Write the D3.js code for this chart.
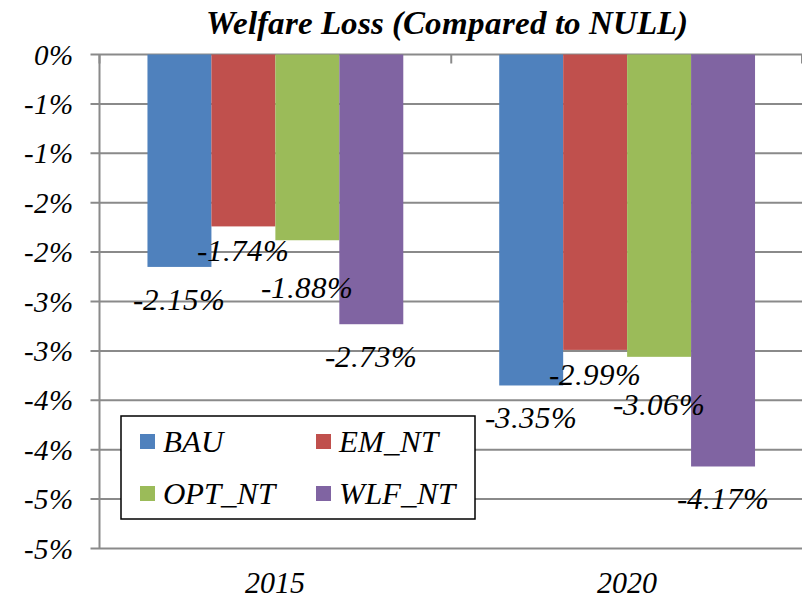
<!DOCTYPE html>
<html>
<head>
<meta charset="utf-8">
<script src="https://cdn.jsdelivr.net/npm/d3@7"></script>
<style>
  @font-face {
    font-family: "RefSerif";
    font-style: italic;
    font-weight: 400;
    src: local("Liberation Serif Italic"), local("LiberationSerif-Italic");
  }
  @font-face {
    font-family: "RefSerif";
    font-style: italic;
    font-weight: 700;
    src: local("Liberation Serif Bold Italic"), local("LiberationSerif-BoldItalic");
  }
  body { margin: 0; }
</style>
</head>
<body>
<svg id="chart" width="802" height="600"></svg>
<script>
const years = ["2015", "2020"];
const seriesNames = ["BAU", "EM_NT", "OPT_NT", "WLF_NT"];
const BAU = [-2.15, -3.35];
const EM_NT = [-1.74, -2.99];
const OPT_NT = [-1.88, -3.06];
const WLF_NT = [-2.73, -4.17];
const yTicks = [0, -0.5, -1, -1.5, -2, -2.5, -3, -3.5, -4, -4.5, -5];

const seriesValues = { BAU, EM_NT, OPT_NT, WLF_NT };
const colors = { BAU: "#4F81BD", EM_NT: "#C0504D", OPT_NT: "#9BBB59", WLF_NT: "#8064A2" };
// labels were nudged by hand in the original so they don't collide
const labelNudge = { BAU: 0, EM_NT: -8, OPT_NT: 15, WLF_NT: 0 };

const plotLeft = 99.5, plotRight = 803, plotTop = 54.5, plotBottom = 548.5;
const gridColor = "#8a8a8a";
const fontStack = '"RefSerif", "Liberation Serif", "Times New Roman", serif';

const svg = d3.select("#chart");

const y = d3.scaleLinear().domain([-5, 0]).range([plotBottom, plotTop]);
const x = d3.scaleBand().domain(years).range([plotLeft, plotRight]);
const xs = d3.scaleBand().domain(seriesNames).range([0, x.bandwidth()]).paddingOuter(0.75);

const fmtTick = v => v === 0 ? "0%" : "-" + Math.round(-v) + "%";

function addText(parent, size) {
  return parent.append("text")
    .style("font-family", fontStack)
    .style("font-style", "italic")
    .style("font-size", size + "px")
    .attr("fill", "#000");
}

// gridlines
svg.append("g")
  .selectAll("line")
  .data(yTicks)
  .enter().append("line")
  .attr("x1", plotLeft - 9)
  .attr("x2", plotRight)
  .attr("y1", d => y(d))
  .attr("y2", d => y(d))
  .attr("stroke", gridColor)
  .attr("stroke-width", 2);

// value axis line
svg.append("line")
  .attr("x1", plotLeft).attr("x2", plotLeft)
  .attr("y1", plotTop).attr("y2", plotBottom)
  .attr("stroke", gridColor).attr("stroke-width", 2);

// y tick labels
yTicks.forEach(v => {
  addText(svg, 29)
    .attr("x", plotLeft - 27)
    .attr("y", y(v))
    .attr("dy", "0.35em")
    .attr("text-anchor", "end")
    .text(fmtTick(v));
});

// category axis sits at 0, ticks point down
svg.append("g")
  .selectAll("line")
  .data([plotLeft, x("2020"), plotRight - 1])
  .enter().append("line")
  .attr("x1", d => d)
  .attr("x2", d => d)
  .attr("y1", y(0))
  .attr("y2", y(0) + 9)
  .attr("stroke", gridColor)
  .attr("stroke-width", 2);

// title
addText(svg, 33)
  .attr("x", 447)
  .attr("y", 34)
  .attr("text-anchor", "middle")
  .style("font-weight", "bold")
  .text("Welfare Loss (Compared to NULL)");

// category labels at the bottom
years.forEach(yr => {
  addText(svg, 30)
    .attr("x", x(yr) + x.bandwidth() / 2)
    .attr("y", 593)
    .attr("text-anchor", "middle")
    .text(yr);
});

// bars
const rows = [];
years.forEach((yr, i) => {
  seriesNames.forEach(s => rows.push({ year: yr, series: s, value: seriesValues[s][i] }));
});

svg.append("g")
  .selectAll("rect")
  .data(rows)
  .enter().append("rect")
  .attr("x", d => x(d.year) + xs(d.series))
  .attr("width", xs.bandwidth())
  .attr("y", y(0))
  .attr("height", d => y(d.value) - y(0))
  .attr("fill", d => colors[d.series]);

// value labels
rows.forEach(d => {
  addText(svg, 31)
    .attr("x", x(d.year) + xs(d.series) + xs.bandwidth() / 2)
    .attr("y", y(d.value) + 32 + labelNudge[d.series])
    .attr("dy", "0.35em")
    .attr("text-anchor", "middle")
    .text(d.value.toFixed(2) + "%");
});

// legend
const legend = svg.append("g").attr("transform", "translate(121,416)");
legend.append("rect")
  .attr("width", 354)
  .attr("height", 103)
  .attr("fill", "#fff")
  .attr("stroke", "#000")
  .attr("stroke-width", 1.5);

seriesNames.forEach((s, i) => {
  const item = legend.append("g")
    .attr("transform", `translate(${19 + (i % 2) * 176},${25.5 + Math.floor(i / 2) * 52})`);
  item.append("rect")
    .attr("y", -7.5)
    .attr("width", 15)
    .attr("height", 15)
    .attr("fill", colors[s]);
  addText(item, 31)
    .attr("x", 23)
    .attr("dy", "0.35em")
    .text(s);
});
</script>
</body>
</html>
